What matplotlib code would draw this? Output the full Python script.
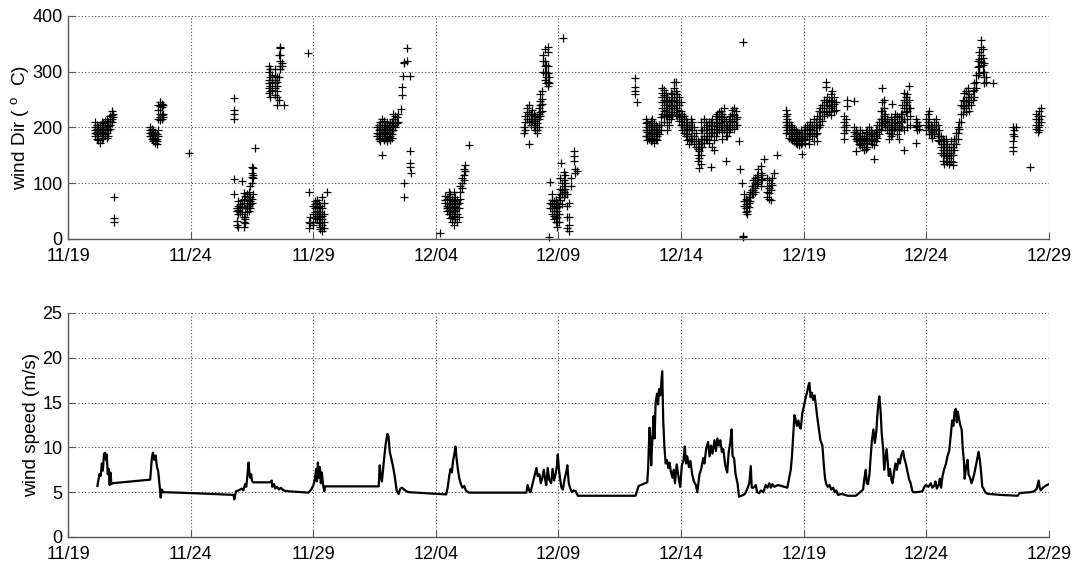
import matplotlib
matplotlib.use("Agg")
import matplotlib.pyplot as plt

plt.rcParams['font.family'] = ['Liberation Sans', 'DejaVu Sans']
plt.rcParams['mathtext.fontset'] = 'custom'
plt.rcParams['mathtext.rm'] = 'Liberation Sans'

# ---- x axis: days since 11/19 ----
tick_days = [0, 5, 10, 15, 20, 25, 30, 35, 40]
tick_labels = ['11/19', '11/24', '11/29', '12/04', '12/09', '12/14', '12/19', '12/24', '12/29']

# ---- wind direction samples: one time column per entry, with its readings ----
dir_day = [
    1.10, 1.17, 1.24, 1.31, 1.37, 1.44, 1.51, 1.58, 1.65, 1.71, 1.78, 1.82, 1.86,
    3.35, 3.41, 3.48, 3.55, 3.62, 3.69, 3.76, 3.82, 3.89, 4.94,
    6.78, 6.88, 6.95, 7.02, 7.09, 7.16, 7.23, 7.29, 7.36, 7.43, 7.50, 7.56, 7.63,
    8.18, 8.24, 8.31, 8.45, 8.52, 8.59, 8.65, 8.72, 8.79, 9.77,
    9.81, 9.88, 10.01, 10.08, 10.15, 10.22, 10.29, 10.35, 10.42, 10.56,
    12.60, 12.67, 12.73, 12.80, 12.87, 12.94, 13.00, 13.07, 13.13, 13.20, 13.27, 13.33, 13.40, 13.47,
    13.56, 13.62, 13.66, 13.69, 13.71, 13.81, 13.84, 13.93, 13.95, 13.98,
    15.18, 15.39, 15.46, 15.52, 15.59, 15.66, 15.73, 15.80, 15.86, 15.93, 16.00, 16.07, 16.14, 16.20, 16.34,
    18.61, 18.65, 18.72, 18.79, 18.86, 18.92, 18.99, 19.06, 19.13, 19.19, 19.26, 19.33, 19.37, 19.44, 19.50, 19.56, 19.63, 20.19,
    19.67, 19.74, 19.81, 19.88, 19.95, 20.01, 20.08, 20.10, 20.14, 20.21, 20.27, 20.35, 20.41, 20.49, 20.65, 20.69, 20.74,
    23.10, 23.21, 23.55, 23.62, 23.69, 23.76, 23.83, 23.89, 23.96, 24.03, 24.10, 24.16,
    24.23, 24.30, 24.37, 24.44, 24.50, 24.57, 24.64, 24.71, 24.78, 24.84, 24.91, 24.98,
    25.05, 25.12, 25.18, 25.25, 25.32, 25.39, 25.46, 25.53, 25.60, 25.67, 25.73, 25.80,
    25.87, 25.93, 26.00, 26.07, 26.14, 26.20, 26.27, 26.34, 26.41, 26.48, 26.54, 26.61, 26.68,
    26.75, 26.82, 26.88, 26.95, 27.01, 27.08, 27.15, 27.22, 27.29, 27.36, 27.54,
    27.42, 27.50, 27.56, 27.63, 27.69, 27.76, 27.82, 27.89, 27.95, 28.02, 28.10, 28.14, 28.24, 28.31, 28.37,
    28.51, 28.58, 28.65, 28.71, 28.78, 28.91,
    29.27, 29.33, 29.40, 29.47, 29.54, 29.60, 29.67, 29.74, 29.80, 29.87, 29.94, 30.00, 30.07, 30.14, 30.20,
    30.27, 30.34, 30.41, 30.48, 30.54, 30.61, 30.68, 30.75, 30.82, 30.89, 30.96, 31.03, 31.10, 31.17, 31.23, 31.30,
    31.65, 31.71, 31.78,
    32.05, 32.12, 32.18, 32.25, 32.31, 32.39, 32.45, 32.52, 32.59, 32.65, 32.73, 32.80, 32.86, 32.93, 33.00, 33.07,
    33.14, 33.20, 33.27, 33.33, 33.40, 33.47, 33.54, 33.61, 33.67, 33.74, 33.80, 33.87, 33.95, 34.01, 34.08, 34.15,
    34.20, 34.29, 34.35, 34.56, 34.63, 34.69,
    34.98, 35.05, 35.12, 35.18, 35.25, 35.31, 35.39, 35.46, 35.52, 35.59, 35.66, 35.73, 35.80, 35.86, 35.93, 36.00,
    36.07, 36.14, 36.21, 36.27, 36.34, 36.41, 36.48, 36.54, 36.61, 36.68, 36.75, 36.82, 36.89, 36.95, 37.02, 37.10,
    37.16, 37.22, 37.29, 37.36, 37.43, 37.70,
    38.52, 38.59, 38.65, 39.24, 39.47, 39.54, 39.61, 39.67,
]
dir_deg = [
    [210, 200, 195, 190, 185], [205, 198, 192, 188, 180], [200, 195, 185, 178], [205, 195, 190, 172],
    [210, 200, 192, 185, 180], [208, 198, 190, 182], [212, 200, 195, 188], [215, 205, 198, 190, 182],
    [210, 203, 195, 185], [220, 212, 205, 198], [230, 222, 215, 210], [225, 218], [75, 37, 30],
    [200, 195, 190, 185], [198, 192, 188, 180], [195, 187, 182, 175], [190, 185, 178, 172], [188, 180, 175, 170],
    [240, 232, 215, 195, 185], [245, 238, 225, 218, 213], [242, 236, 222, 215], [240, 225, 218], [154],
    [253, 232, 225, 216, 107, 80], [55, 50, 32, 25], [68, 60, 52, 45, 22], [62, 55, 48], [104, 70, 58, 45],
    [82, 72, 65, 40, 30, 22], [78, 55, 40, 35, 28], [80, 70, 60, 55, 48], [85, 75, 68, 60, 50],
    [95, 75, 68, 62, 55], [130, 118, 112, 100, 72, 65], [128, 115, 110, 80], [163],
    [310, 300, 285, 280, 270, 262], [305, 290, 275, 265, 255], [295, 282, 268], [305, 292, 285, 280, 270, 258],
    [290, 282, 275, 265, 255, 240], [330, 290, 250], [345, 342, 330, 320, 310, 305], [315, 310], [240], [333],
    [85, 30, 20], [40, 28], [60, 45, 30, 25], [68, 62, 55, 48, 38], [70, 65, 58, 50, 42, 35],
    [65, 55, 45, 35, 28], [60, 48, 40, 30, 22, 18], [75, 55, 42, 35, 25, 15], [65, 45, 30, 20], [85],
    [200, 190, 185], [205, 195, 188, 180], [210, 198, 190, 182, 175], [215, 205, 195, 188, 151],
    [212, 200, 192, 185, 178], [205, 198, 190, 182], [210, 200, 195, 188, 180, 175], [205, 198, 190, 183],
    [208, 200, 192, 185, 178], [210, 202, 195, 188, 182], [224, 215, 205, 195], [220, 210, 200], [218, 208], [225, 210],
    [234], [272, 259], [292], [316, 101], [318, 75], [320], [342], [292], [158, 136, 130], [118],
    [10], [78, 70, 65], [72, 60, 55, 50], [85, 75, 65, 58, 52, 45], [80, 70, 62, 55, 45, 38],
    [72, 65, 55, 48, 40, 30], [85, 68, 60, 52, 42, 25], [75, 65, 58, 50, 35], [70, 62, 55, 45, 30],
    [65, 55, 40], [95, 85, 72], [110, 100, 92], [125, 115, 105], [133, 122], [168],
    [200, 190], [220, 210, 195], [235, 228, 215], [240, 225, 210, 170], [225, 215, 205], [232, 222, 212],
    [225, 215, 208, 200], [220, 212, 205, 195], [218, 208, 195, 190], [235, 225, 215, 200],
    [260, 248, 240, 228, 220], [265, 252, 242, 230], [330, 320, 300], [340, 320, 310, 298, 285],
    [312, 300, 290, 280], [345, 335, 310, 298, 282, 275], [290, 280, 4], [360],
    [103, 65, 55], [80, 70, 62, 55, 45], [68, 60, 50, 42, 35], [70, 62, 55, 45, 38, 30],
    [65, 58, 50, 40, 30, 22], [75, 60, 45, 30], [110, 90, 80, 70], [137], [100, 88, 80, 62],
    [120, 105, 95, 85, 75], [115, 100, 90, 80], [80, 60, 40, 20], [65, 40, 25, 15], [110, 95],
    [158, 148, 140], [125, 118], [122],
    [289, 272, 265, 260], [245], [215, 208, 195, 185], [210, 200, 192, 185, 178], [205, 195, 188, 180],
    [212, 200, 190, 182, 175], [215, 205, 195, 185, 178], [208, 198, 190, 180, 172], [205, 195, 188, 180],
    [200, 192, 185, 178], [205, 195, 188], [218, 205, 195],
    [270, 262, 255, 245, 235, 225], [268, 258, 250, 240, 230, 220, 210], [262, 248, 240, 232, 220],
    [255, 245, 235, 222, 210, 195], [250, 240, 228, 218, 205], [262, 248, 238, 225, 215],
    [260, 248, 235, 222], [282, 270, 255, 240, 228], [282, 265, 250, 235, 222], [260, 245, 232, 220],
    [255, 240, 225, 212], [245, 230, 218, 205],
    [225, 215, 205, 195], [220, 210, 200, 190], [215, 205, 195, 185], [210, 198, 188, 178],
    [205, 195, 180, 170], [215, 200, 185, 175], [210, 195, 180], [200, 185, 170], [190, 175, 165],
    [175, 162, 150, 140], [170, 158, 145, 128], [210, 195, 180, 165, 150, 135],
    [195, 180, 165], [215, 200, 185, 172], [210, 195, 180], [205, 190, 178], [210, 198, 185, 172],
    [210, 198, 185, 130], [215, 202, 190, 165], [205, 192, 178, 160], [220, 210, 198, 185],
    [225, 215, 205, 192], [228, 218, 208, 195], [230, 220, 210, 200], [225, 215, 205, 192, 180],
    [235, 218, 205, 195], [212, 200, 185, 139], [205, 195, 185], [215, 205, 192], [220, 210, 198],
    [231, 225, 212, 200], [235, 222, 210, 198], [230, 215, 205], [218, 205], [175], [354, 5, 3],
    [125], [100], [80, 68, 60], [72, 62, 55, 48], [70, 60, 50, 45], [75, 65, 58], [85, 75, 68],
    [95, 88, 80], [105, 95, 88, 80], [110, 100, 92, 85], [115, 105, 98], [125, 112, 102],
    [131, 118, 108, 95], [115, 105], [143],
    [110, 95, 85, 75], [105, 92, 82, 72], [100, 88, 70], [110, 96], [118], [151],
    [231, 220, 210, 200, 190], [225, 215, 205, 195], [210, 200, 190, 182], [205, 195, 188, 180],
    [200, 192, 185, 178], [198, 190, 182, 175], [195, 188, 180, 172], [192, 185, 178, 170],
    [190, 182, 175, 168], [195, 185, 178, 170], [190, 182, 172, 152], [195, 185, 178],
    [200, 190, 180, 172], [205, 195, 185], [200, 190, 180, 170],
    [210, 198, 188], [205, 195, 185], [215, 200, 190, 175], [210, 200, 188], [220, 205, 190, 175],
    [230, 215, 200], [235, 220, 205], [240, 228, 212], [250, 235, 220], [282, 272, 245, 230],
    [255, 240, 225], [250, 238, 228], [260, 248, 235, 222], [265, 250, 238], [255, 242, 230], [245, 232],
    [220, 210, 200, 190, 180], [215, 205, 195], [249, 238],
    [247, 200, 192, 185], [195, 188, 180, 158], [190, 182, 175], [185, 178, 170], [195, 182, 175, 168],
    [190, 180, 172, 165], [185, 178, 170, 160], [192, 182, 172, 162], [195, 185, 175, 165],
    [200, 188, 178], [195, 185, 175], [190, 180, 170], [188, 178, 168, 143], [195, 185, 175],
    [205, 192, 182], [210, 198, 188],
    [230, 215, 205, 195], [270, 245, 230, 215, 205], [250, 235, 220, 208], [225, 212, 200],
    [215, 205, 195], [210, 200, 190, 180], [218, 205, 195, 185], [243, 210, 198, 188],
    [215, 205, 195], [225, 210, 200], [220, 208, 198, 188], [218, 205, 195, 180], [225, 212, 200],
    [240, 225, 210, 200], [262, 250, 235, 215, 195, 160], [255, 240, 228],
    [260, 245, 230, 215, 200], [274, 250, 235], [235, 220, 205], [215, 205, 200, 172], [210, 202, 195], [205, 198],
    [215, 205, 195], [225, 210, 200], [230, 215, 200, 188], [205, 195, 188], [200, 192, 182],
    [210, 198, 188], [215, 205, 195], [205, 195, 185, 178], [195, 185, 175], [185, 175, 165, 155],
    [180, 170, 160, 150, 140], [175, 165, 150, 135], [180, 165, 155, 140], [170, 160, 148, 138],
    [165, 155, 145, 135], [175, 160, 150, 140],
    [165, 150, 138, 133], [180, 170, 160], [190, 180, 170], [200, 190, 180], [210, 198],
    [240, 225, 210], [250, 238, 225], [262, 248, 235], [265, 250, 240, 228], [270, 255, 240],
    [260, 245, 230], [255, 240], [265, 250], [280, 268, 255], [295, 282, 270], [320, 308, 295],
    [335, 322, 310, 298], [357, 345, 330, 318], [340, 325, 312, 300], [315, 300, 290, 280], [290, 282], [280],
    [200, 188, 175, 165, 157], [195, 185], [201], [130],
    [225, 215, 205, 198], [220, 210, 200, 192], [230, 215, 205, 195], [235, 220, 210],
]

# ---- wind speed trace (days since 11/19, m/s) ----
spd_day = [
    1.20, 1.28, 1.33, 1.38, 1.42, 1.47, 1.51, 1.55, 1.58, 1.62, 1.66, 1.70, 1.73, 1.77, 1.81,
    3.35, 3.42, 3.46, 3.52, 3.57, 3.63, 3.68, 3.74, 3.78, 3.82, 3.88, 4.50, 5.45, 6.75, 6.78,
    6.85, 6.95, 7.09, 7.15, 7.22, 7.27, 7.33, 7.36, 7.40, 7.43, 7.47, 7.50, 7.55, 8.25, 8.31,
    8.33, 8.40, 8.45, 8.52, 8.60, 8.68, 8.78, 9.00, 9.50, 9.80, 9.92, 10.01, 10.07, 10.12, 10.15,
    10.19, 10.23, 10.27, 10.31, 10.35, 10.40, 10.45, 10.48, 12.67, 12.71, 12.75, 12.80, 12.88, 12.95,
    13.02, 13.07, 13.12, 13.18, 13.25, 13.32, 13.40, 13.48, 13.55, 13.62, 13.70, 13.80, 13.90,
    15.42, 15.48, 15.55, 15.60, 15.65, 15.70, 15.75, 15.80, 15.85, 15.90, 15.95, 16.02, 16.08,
    16.16, 16.22, 16.34, 18.69, 18.74, 18.80, 18.86, 18.95, 19.02, 19.10, 19.15, 19.22, 19.28,
    19.34, 19.40, 19.45, 19.50, 19.56, 19.62, 19.70, 19.76, 19.82, 19.88, 19.93, 19.97, 20.02,
    20.07, 20.12, 20.18, 20.25, 20.32, 20.36, 20.42, 20.47, 20.55, 20.62, 20.70, 20.79,
    23.14, 23.27, 23.62, 23.66, 23.71, 23.74, 23.78, 23.82, 23.88, 23.92, 23.96, 24.02, 24.06,
    24.10, 24.15, 24.20, 24.23, 24.27, 24.32, 24.37, 24.42, 24.48, 24.53, 24.58, 24.65, 24.70,
    24.75, 24.82, 24.90, 24.96, 25.03, 25.10, 25.15, 25.20, 25.25, 25.32, 25.38, 25.45, 25.52,
    25.60, 25.66, 25.75, 25.82, 25.90, 25.95, 26.02, 26.10, 26.16, 26.22, 26.28, 26.36, 26.42,
    26.48, 26.54, 26.60, 26.66, 26.72, 26.80, 26.88, 26.94, 27.00, 27.06, 27.10, 27.16, 27.22,
    27.30, 27.36, 27.45, 27.55, 27.62, 27.70, 27.78, 27.84, 27.88, 27.95, 28.04, 28.10, 28.18,
    28.26, 28.35, 28.45, 28.52, 28.60, 28.66, 28.72, 28.80, 28.95, 29.20, 29.33, 29.40, 29.47,
    29.52, 29.56, 29.62, 29.66, 29.72, 29.78, 29.84, 29.88, 29.94, 30.00, 30.08, 30.14, 30.20,
    30.23, 30.28, 30.33, 30.38, 30.44, 30.49, 30.55, 30.62, 30.68, 30.76, 30.82, 30.87, 30.92,
    30.98, 31.05, 31.12, 31.20, 31.26, 31.32, 31.40, 31.55, 31.80, 32.12, 32.30, 32.42, 32.47,
    32.53, 32.57, 32.62, 32.68, 32.73, 32.78, 32.84, 32.90, 32.96, 33.00, 33.04, 33.08, 33.13,
    33.18, 33.24, 33.28, 33.32, 33.38, 33.42, 33.47, 33.52, 33.58, 33.62, 33.68, 33.74, 33.80,
    33.86, 33.92, 33.98, 34.05, 34.10, 34.16, 34.22, 34.30, 34.36, 34.42, 34.46, 34.60, 34.84,
    34.92, 34.98, 35.08, 35.18, 35.24, 35.32, 35.37, 35.43, 35.50, 35.55, 35.60, 35.66, 35.72,
    35.80, 35.86, 35.93, 36.00, 36.05, 36.10, 36.15, 36.20, 36.24, 36.28, 36.33, 36.38, 36.44,
    36.48, 36.53, 36.56, 36.62, 36.68, 36.72, 36.78, 36.84, 36.88, 36.95, 37.02, 37.08, 37.13,
    37.18, 37.24, 37.28, 37.33, 37.40, 37.50, 37.56, 38.00, 38.40, 38.72, 38.80, 39.00, 39.25,
    39.40, 39.50, 39.58, 39.62, 39.67, 39.75, 39.85, 40.00,
]
spd_val = [
    5.7, 7.0, 6.8, 8.2, 7.4, 9.3, 9.4, 8.6, 9.2, 7.0, 7.6, 5.8, 7.2, 5.9, 6.0,
    6.4, 8.8, 9.4, 8.6, 9.1, 7.8, 7.3, 5.6, 4.4, 5.3, 5.0, 4.95, 4.85, 4.7, 4.2,
    5.1, 5.2, 5.4, 5.2, 5.9, 5.6, 7.3, 8.3, 7.0, 6.6, 7.0, 6.3, 6.1, 6.1, 6.3,
    5.6, 5.9, 5.4, 5.6, 5.3, 5.5, 5.2, 5.1, 5.0, 4.95, 5.3, 5.8, 6.5, 7.6, 6.2,
    8.3, 6.6, 7.8, 6.0, 7.2, 5.8, 5.1, 5.65, 5.65, 8.0, 6.8, 6.2, 8.5, 10.3,
    11.5, 11.2, 9.5, 8.8, 7.9, 6.8, 5.2, 4.8, 5.4, 5.5, 5.3, 5.1, 5.0,
    4.75, 5.5, 6.9, 7.6, 7.2, 8.5, 9.2, 10.1, 8.6, 7.5, 6.6, 5.9, 5.5,
    5.7, 5.2, 4.95, 4.95, 5.8, 5.2, 5.0, 6.0, 6.8, 7.7, 6.8, 7.0, 6.0,
    6.6, 7.5, 6.5, 5.8, 7.7, 6.4, 6.0, 7.6, 6.3, 7.0, 7.8, 9.2, 7.5,
    6.4, 5.5, 5.3, 6.5, 7.3, 8.0, 6.0, 5.5, 5.0, 5.2, 5.1, 4.6,
    4.6, 5.7, 6.1, 8.0, 12.2, 11.0, 8.0, 10.5, 13.5, 11.0, 15.0, 16.0, 14.8,
    16.5, 15.8, 17.5, 18.5, 13.0, 10.0, 8.2, 8.6, 7.7, 8.3, 7.3, 6.6, 7.5,
    6.0, 8.1, 6.6, 5.6, 8.0, 8.6, 10.1, 8.2, 9.0, 7.8, 8.5, 7.0, 6.2,
    5.8, 5.0, 7.0, 7.6, 8.8, 8.2, 9.8, 10.6, 9.0, 10.2, 9.3, 10.8, 9.6,
    11.0, 10.2, 10.8, 9.5, 9.8, 8.0, 7.2, 9.5, 10.5, 12.0, 9.0, 8.8, 7.0,
    6.0, 4.5, 4.6, 4.7, 4.9, 5.4, 6.0, 7.9, 5.5, 5.5, 5.8, 5.0, 4.9,
    5.2, 5.0, 5.8, 5.5, 6.0, 5.5, 5.9, 5.6, 5.8, 5.6, 5.5, 6.5, 7.5,
    9.0, 10.8, 13.6, 13.2, 12.4, 13.0, 12.2, 12.1, 13.8, 14.5, 15.6, 16.2, 17.0,
    17.2, 15.6, 16.1, 15.3, 15.8, 14.8, 13.4, 12.0, 10.8, 10.2, 8.0, 6.5, 5.9,
    5.6, 5.8, 5.3, 5.5, 5.0, 5.2, 4.7, 4.8, 4.6, 4.6, 5.0, 5.3, 6.5,
    7.5, 6.0, 5.9, 7.0, 9.0, 10.8, 12.0, 10.5, 11.8, 13.5, 14.8, 15.7, 14.2,
    11.5, 9.8, 7.5, 8.6, 9.8, 8.5, 6.8, 7.6, 6.3, 6.0, 7.2, 8.2, 7.5,
    8.7, 8.2, 9.2, 9.6, 8.8, 8.2, 7.4, 6.4, 6.0, 5.2, 5.0, 5.0, 5.1,
    5.6, 5.8, 5.6, 6.0, 5.5, 5.7, 6.2, 5.4, 5.8, 6.5, 5.5, 6.8, 7.5,
    8.2, 9.0, 9.6, 11.5, 13.0, 12.4, 14.0, 14.3, 12.8, 14.0, 13.2, 12.5, 12.0,
    10.0, 8.5, 6.5, 7.8, 8.6, 7.0, 6.6, 6.0, 6.3, 7.0, 8.0, 8.8, 9.5,
    8.6, 7.0, 5.6, 5.4, 5.0, 4.8, 4.8, 4.7, 4.65, 4.6, 4.9, 4.95, 5.0,
    5.1, 5.4, 6.3, 5.5, 5.2, 5.5, 5.7, 5.9,
]

fig = plt.figure(figsize=(10.76, 5.63), dpi=100)
ax1 = fig.add_axes([0.0632, 0.5755, 0.9117, 0.3961])
ax2 = fig.add_axes([0.0632, 0.0462, 0.9117, 0.3979])

xs, ys = [], []
for d, vals in zip(dir_day, dir_deg):
    for v in vals:
        xs.append(d)
        ys.append(v)
ax1.plot(xs, ys, linestyle='none', marker='+', color='black',
         markersize=6, markeredgewidth=0.9, clip_on=False)
ax2.plot(spd_day, spd_val, color='black', linewidth=1.6)

for ax, ylim, yt, lab, lx in [
    (ax1, (0, 400), [0, 100, 200, 300, 400], r'wind Dir ( $^{\mathrm{o}}$  C)', -0.037),
    (ax2, (0, 25), [0, 5, 10, 15, 20, 25], 'wind speed (m/s)', -0.029),
]:
    ax.set_xlim(0, 40)
    ax.set_ylim(*ylim)
    ax.set_xticks(tick_days)
    ax.set_xticklabels(tick_labels)
    ax.set_yticks(yt)
    ax.grid(True, color='0.3', linestyle=(0, (1, 2)), linewidth=0.8)
    ax.set_axisbelow(True)
    for s in ('top', 'right'):
        ax.spines[s].set_visible(False)
    for s in ('left', 'bottom'):
        ax.spines[s].set_color('0.35')
        ax.spines[s].set_linewidth(1.0)
    ax.tick_params(direction='in', length=5, width=0.8, color='0.35',
                   labelsize=13, labelcolor='black', top=False, right=False)
    ax.tick_params(axis='x', pad=6.5)
    ax.tick_params(axis='y', pad=4)
    ax.set_ylabel(lab, fontsize=13.7)
    ax.yaxis.set_label_coords(lx, 0.5)

fig.savefig('out.png', dpi=100)
